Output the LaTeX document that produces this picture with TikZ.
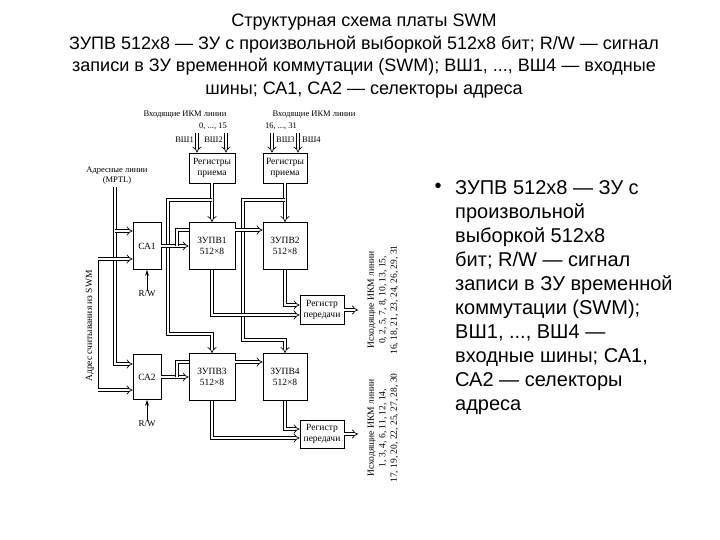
\documentclass[tikz,border=0pt]{standalone}
\usepackage{fontspec}
\setmainfont{Liberation Sans}
\newfontfamily\scanfont{Liberation Serif}
\usetikzlibrary{arrows.meta}

\tikzset{
  blk/.style={draw, line width=0.8pt, align=center, inner sep=1pt,
    font=\scanfont\fontsize{9.5}{11}\selectfont},
  bus/.style={double, double distance=2.4pt, line width=0.7pt, -{Implies[scale=1.3]}},
  sig/.style={line width=0.7pt, -{Stealth[length=6pt,width=4pt]}},
  lbl/.style={inner sep=0pt, align=center, font=\scanfont\fontsize{8.5}{10}\selectfont},
  outlbl/.style={lbl, rotate=90, font=\scanfont\fontsize{9.5}{11.5}\selectfont},
}

\begin{document}
\begin{tikzpicture}[x=1pt, y=-1pt]
\useasboundingbox (0,0) rectangle (720,540);

% title and slide text
\node[align=center, font=\fontsize{18}{22.7}\selectfont] (title) at (364,56)
  {Структурная схема платы SWM\\
   ЗУПВ 512х8 — ЗУ с произвольной выборкой 512х8 бит; R/W — сигнал\\
   записи в ЗУ временной коммутации (SWM); ВШ1, ..., ВШ4 — входные\\
   шины; СА1, СА2 — селекторы адреса};
\node[font=\fontsize{20}{24}\selectfont, inner sep=0pt] (dot) at (438,188) {•};
\node[anchor=north west, align=left, inner sep=0pt, font=\fontsize{20}{24}\selectfont] (bul) at (455,180)
  {ЗУПВ 512х8 — ЗУ с\\произвольной\\выборкой 512х8\\бит; R/W — сигнал\\записи в ЗУ временной\\коммутации (SWM);\\ВШ1, ..., ВШ4 —\\входные шины; СА1,\\СА2 — селекторы\\адреса};

% blocks
\node[blk, minimum width=46pt, minimum height=30pt] (rx1) at (212,168) {Регистры\\приема};
\node[blk, minimum width=44pt, minimum height=30pt] (rx2) at (285,168) {Регистры\\приема};
\node[blk, minimum width=28pt, minimum height=47pt] (ca1) at (147,246) {СА1};
\node[blk, minimum width=46pt, minimum height=47pt] (mem1) at (212,246) {ЗУПВ1\\512×8};
\node[blk, minimum width=44pt, minimum height=47pt] (mem2) at (285,246) {ЗУПВ2\\512×8};
\node[blk, minimum width=44pt, minimum height=29pt] (tx1) at (322,310) {Регистр\\передачи};
\node[blk, minimum width=28pt, minimum height=45pt] (ca2) at (147,377) {СА2};
\node[blk, minimum width=46pt, minimum height=47pt] (mem3) at (212,377) {ЗУПВ3\\512×8};
\node[blk, minimum width=44pt, minimum height=47pt] (mem4) at (285,377) {ЗУПВ4\\512×8};
\node[blk, minimum width=44pt, minimum height=28pt] (tx2) at (322,434) {Регистр\\передачи};

% labels
\node[lbl] (inA) at (185,115) {Входящие ИКМ линии};
\node[lbl] (inAn) at (213,126) {0, ..., 15};
\node[lbl] (inB) at (314,115) {Входящие ИКМ линии};
\node[lbl] (inBn) at (281,126) {16, ..., 31};
\node[lbl, anchor=east] (w1) at (194,140) {ВШ1};
\node[lbl, anchor=east] (w2) at (223,140) {ВШ2};
\node[lbl, anchor=west] (w3) at (276,140) {ВШ3};
\node[lbl, anchor=west] (w4) at (302,140) {ВШ4};
\node[lbl] (adrl) at (117,176) {Адресные линии\\(MPTL)};
\node[lbl, rotate=90, font=\scanfont\fontsize{9.5}{10}\selectfont] (rdl) at (90,326) {Адрес считывания из SWM};
\node[lbl, font=\scanfont\fontsize{9}{10}\selectfont] (rw1) at (147,294) {R/W};
\node[lbl, font=\scanfont\fontsize{9}{10}\selectfont] (rw2) at (147,424) {R/W};
\node[outlbl] (outA) at (383,300) {Исходящие ИКМ линии\\0, 2, 5, 7, 8, 10, 13, 15,\\16, 18, 21, 23, 24, 26, 29, 31};
\node[outlbl] (outB) at (383,428) {Исходящие ИКМ линии\\1, 3, 4, 6, 11, 12, 14,\\17, 19, 20, 22, 25, 27, 28, 30};

% input buses
\coordinate (s1) at (197,133);
\coordinate (s2) at (226,133);
\coordinate (s3) at (272,133);
\coordinate (s4) at (298,133);
\draw[bus] (s1) -- (s1 |- rx1.north);
\draw[bus] (s2) -- (s2 |- rx1.north);
\draw[bus] (s3) -- (s3 |- rx2.north);
\draw[bus] (s4) -- (s4 |- rx2.north);

% address selectors
\coordinate (adr) at (115,187);
\coordinate (a1) at (115,231);
\draw[bus] (adr) |- ([yshift=13pt]ca2.west);
\draw[bus] (a1) -- (a1 -| ca1.west);
\coordinate (rd1) at (98,259);
\coordinate (rd2) at (98,390);
\draw[line width=0.7pt] (rd1) -- (rd2);
\draw[bus] (rd1) -- (rd1 -| ca1.west);
\draw[bus] (rd2) -- (rd2 -| ca2.west);
\draw[sig] (rw1) -- (ca1);
\draw[sig] (rw2) -- (ca2);

% receive registers to memories
\draw[bus] (rx1) -- (mem1);
\draw[bus] (rx2) -- (mem2);
\coordinate (j1) at (212,200);
\coordinate (j2) at (285,200);
\draw[bus] (j1) -| (168,334) -| (mem3.north);
\draw[bus] (j2) -| (243,340) -| (mem4.north);

% selectors to memories
\draw[bus] (ca1) -- (mem1);
\coordinate (k1) at (177,246);
\draw[bus, -] (k1) |- ([yshift=16pt]mem1.west);
\draw[bus] ([yshift=16pt]mem1.east) -- ([yshift=16pt]mem2.west);
\draw[bus] (ca2) -- (mem3);
\coordinate (k2) at (177,377);
\draw[bus, -] (k2) |- ([yshift=15pt]mem3.west);
\draw[bus] ([yshift=15pt]mem3.east) -- ([yshift=15pt]mem4.west);

% memories to send registers
\draw[bus] (mem1) |- ([yshift=-5pt]tx1.west);
\draw[bus] (mem2) |- ([yshift=5pt]tx1.west);
\draw[bus] (mem3) |- ([yshift=-4pt]tx2.west);
\draw[bus] (mem4) |- ([yshift=5pt]tx2.west);
\coordinate (o1) at (358,310);
\coordinate (o2) at (358,434);
\draw[bus] (tx1) -- (o1);
\draw[bus] (tx2) -- (o2);
\end{tikzpicture}
\end{document}
